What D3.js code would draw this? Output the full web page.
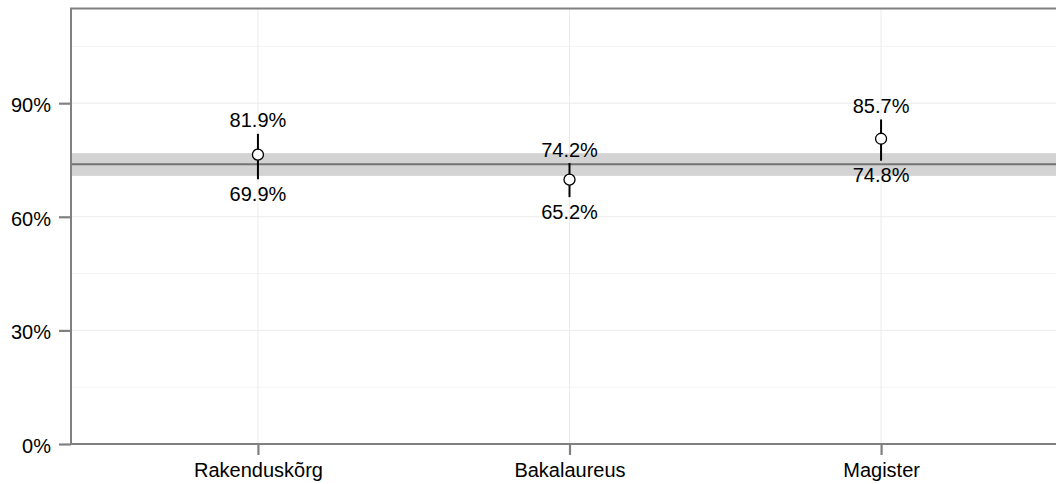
<!DOCTYPE html>
<html>
  <head>
    <meta charset="utf-8">
    <title>Lõpetajate osakaal</title>
    <style>
      body { margin: 0; background: #fff; }
      text { font-family: "Liberation Sans", Arial, sans-serif; }
    </style>
  </head>
  <body>
    <div id="chart"></div>
    <script src="https://cdn.jsdelivr.net/npm/d3@7"></script>
    <script>
      // data
      const categories = ['Rakenduskõrg', 'Bakalaureus', 'Magister'];
      const pointValues = [0.764, 0.698, 0.806];
      const lowerValues = [0.699, 0.652, 0.748];
      const upperValues = [0.819, 0.742, 0.857];
      const overallMean = 0.739;
      const overallLow = 0.708;
      const overallHigh = 0.768;
      const yTicks = [0, 0.3, 0.6, 0.9];
      const yMinor = [0.15, 0.45, 0.75, 1.05];

      const W = 1056, H = 484;
      const margin = {left: 71, top: 8.5, bottom: 444};

      const svg = d3.select('#chart').append('svg')
        .attr('width', W)
        .attr('height', H);

      const x = d3.scalePoint()
        .domain(categories)
        .range([margin.left, 1068])
        .padding(0.6);

      const y = d3.scaleLinear()
        .domain([0, 1.15])
        .range([margin.bottom, margin.top]);

      const fmt = d => d3.format('.0%')(d);
      const fmt1 = d => d3.format('.1%')(d);

      // grid
      const grid = svg.append('g');
      grid.selectAll('.minor')
        .data(yMinor)
        .enter().append('line')
        .attr('x1', margin.left).attr('x2', W)
        .attr('y1', d => y(d)).attr('y2', d => y(d))
        .attr('stroke', '#f4f4f4').attr('stroke-width', 1);
      grid.selectAll('.major')
        .data(yTicks)
        .enter().append('line')
        .attr('x1', margin.left).attr('x2', W)
        .attr('y1', d => y(d)).attr('y2', d => y(d))
        .attr('stroke', '#ebebeb').attr('stroke-width', 1);
      grid.selectAll('.vert')
        .data(categories)
        .enter().append('line')
        .attr('x1', d => x(d)).attr('x2', d => x(d))
        .attr('y1', margin.top).attr('y2', margin.bottom)
        .attr('stroke', '#ebebeb').attr('stroke-width', 1);

      // overall band + line
      svg.append('rect')
        .attr('x', margin.left)
        .attr('width', W - margin.left)
        .attr('y', y(overallHigh))
        .attr('height', y(overallLow) - y(overallHigh))
        .attr('fill', '#d3d3d3');
      svg.append('line')
        .attr('x1', margin.left).attr('x2', W)
        .attr('y1', y(overallMean)).attr('y2', y(overallMean))
        .attr('stroke', '#737373').attr('stroke-width', 2);

      // axes
      const yAxis = svg.append('g')
        .attr('transform', `translate(${margin.left},0)`)
        .call(d3.axisLeft(y).tickValues(yTicks).tickFormat(fmt).tickSize(12).tickPadding(8));
      const xAxis = svg.append('g')
        .attr('transform', `translate(0,${margin.bottom})`)
        .call(d3.axisBottom(x).tickSize(11).tickPadding(8));

      [yAxis, xAxis].forEach(a => {
        a.select('.domain').remove();
        a.selectAll('.tick line').attr('stroke', '#808080').attr('stroke-width', 2.2);
        a.selectAll('.tick text')
          .attr('fill', '#000')
          .style('font-size', '20px')
          .style('font-family', '"Liberation Sans", Arial, sans-serif');
      });
      yAxis.selectAll('.tick text').attr('dy', '0.42em');
      xAxis.selectAll('.tick text').attr('dy', '0.7em');

      // panel border (top, left, bottom)
      svg.append('path')
        .attr('d', `M${W},${margin.top}H${margin.left}V${margin.bottom}H${W}`)
        .attr('fill', 'none')
        .attr('stroke', '#808080')
        .attr('stroke-width', 2);

      // error bars and points
      const marks = svg.append('g');
      categories.forEach((c, i) => {
        marks.append('line')
          .attr('x1', x(c)).attr('x2', x(c))
          .attr('y1', y(lowerValues[i])).attr('y2', y(upperValues[i]))
          .attr('stroke', '#000').attr('stroke-width', 2);
        marks.append('circle')
          .attr('cx', x(c)).attr('cy', y(pointValues[i]))
          .attr('r', 5.5)
          .attr('fill', '#fff')
          .attr('stroke', '#000').attr('stroke-width', 1.3);
        marks.append('text')
          .attr('x', x(c)).attr('y', y(upperValues[i]) - 6.5)
          .attr('text-anchor', 'middle')
          .style('font-size', '20px')
          .text(fmt1(upperValues[i]));
        marks.append('text')
          .attr('x', x(c)).attr('y', y(lowerValues[i]) + 21.5)
          .attr('text-anchor', 'middle')
          .style('font-size', '20px')
          .text(fmt1(lowerValues[i]));
      });
    </script>
  </body>
</html>
